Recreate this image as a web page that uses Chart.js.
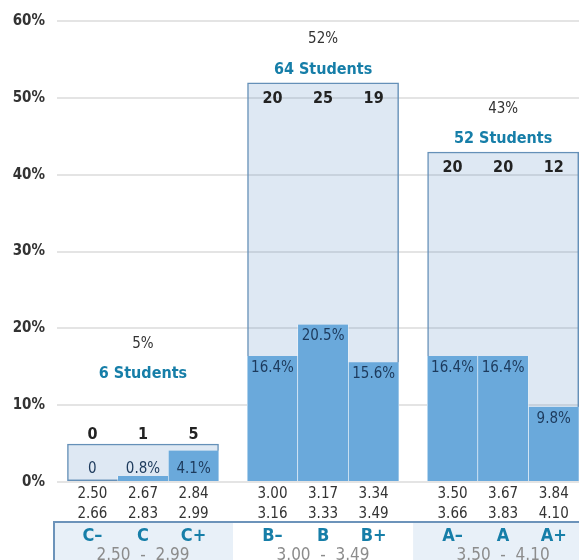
<!DOCTYPE html>
<html><head><meta charset="utf-8">
<script src="https://cdn.jsdelivr.net/npm/chart.js@4.4.0/dist/chart.umd.min.js"></script>
<style>
html,body{margin:0;padding:0;background:#fff;}
#wrap{width:579px;height:560px;position:relative;}
</style></head><body>
<div id="wrap"><canvas id="c"></canvas></div>
<script>
// ---- data ----
const grades = ['C–','C','C+','B–','B','B+','A–','A','A+'];
const gpaLow = ['2.50','2.67','2.84','3.00','3.17','3.34','3.50','3.67','3.84'];
const gpaHigh = ['2.66','2.83','2.99','3.16','3.33','3.49','3.66','3.83','4.10'];
const studentCounts = [0,1,5,20,25,19,20,20,12];
const sharePct = [0,0.8,4.1,16.4,20.5,15.6,16.4,16.4,9.8];
const groupRanges = ['2.50  -  2.99','3.00  -  3.49','3.50  -  4.10'];
const groupPct = [5,52,43];
const yTickStep = 10;
const yMax = 60;

// ---- layout helpers ----
const FF = "'DejaVu Sans Condensed','Liberation Sans Narrow','DejaVu Sans',sans-serif";
const GAP = 0.56;          // gap between grade groups, in bar widths
const GROUP_SPAN = 3 + GAP;
const barPos = grades.map((_, i) => Math.floor(i / 3) * GROUP_SPAN + (i % 3));
const groupPos = groupPct.map((_, g) => g * GROUP_SPAN + 1);
const X_MIN = -0.7;
const X_MAX = barPos[barPos.length - 1] + 0.5;
const HEADER_FLOOR = 12.4;
const TEAL = '#167ea8';

const labelPlugin = {
  id: 'labels',
  afterDatasetsDraw(chart) {
    const ctx = chart.ctx;
    const y = chart.scales.y;
    const boxMeta = chart.getDatasetMeta(0);
    const barMeta = chart.getDatasetMeta(1);
    const zeroY = y.getPixelForValue(0);
    ctx.save();
    ctx.textAlign = 'center';
    ctx.textBaseline = 'middle';
    barMeta.data.forEach((bar, i) => {
      const v = sharePct[i];
      const txt = v === 0 ? '0' : v.toFixed(1) + '%';
      const short = zeroY - bar.y < 40;
      const ty = short ? zeroY - 13 : bar.y + 12;
      ctx.font = '15px ' + FF;
      ctx.fillStyle = '#1d3a5c';
      ctx.fillText(txt, bar.x, ty);
    });
    boxMeta.data.forEach((box, g) => {
      const top = box.y;
      const tall = zeroY - top > 60;
      const countY = tall ? top + 16 : top - 9;
      let total = 0;
      for (let k = 0; k < 3; k++) {
        const i = g * 3 + k;
        total += studentCounts[i];
        ctx.font = 'bold 16px ' + FF;
        ctx.fillStyle = '#222';
        ctx.fillText(String(studentCounts[i]), barMeta.data[i].x, countY);
      }
      const anchor = Math.min(top, y.getPixelForValue(HEADER_FLOOR));
      ctx.font = 'bold 16px ' + FF;
      ctx.fillStyle = TEAL;
      ctx.fillText(total + ' Students', box.x, anchor - 13);
      ctx.font = '15px ' + FF;
      ctx.fillStyle = '#333';
      ctx.fillText(groupPct[g] + '%', box.x, anchor - 43);
    });
    ctx.restore();
  },
  afterDraw(chart) {
    const ctx = chart.ctx;
    const x = chart.scales.x;
    const area = chart.chartArea;
    const bandTop = area.bottom + 40;
    const H = chart.height;
    const edges = [area.left - 3];
    for (let g = 1; g < groupPct.length; g++) {
      edges.push(x.getPixelForValue(g * GROUP_SPAN - 0.5 - GAP / 2));
    }
    edges.push(chart.width);
    ctx.save();
    for (let g = 0; g < groupPct.length; g++) {
      ctx.fillStyle = g % 2 === 0 ? '#e8f0f8' : '#ffffff';
      ctx.fillRect(edges[g], bandTop, edges[g + 1] - edges[g], H - bandTop);
    }
    ctx.strokeStyle = '#6c93ba';
    ctx.lineWidth = 2;
    ctx.beginPath();
    ctx.moveTo(edges[0], H);
    ctx.lineTo(edges[0], bandTop);
    ctx.lineTo(chart.width, bandTop);
    ctx.stroke();
    ctx.textAlign = 'center';
    ctx.textBaseline = 'middle';
    grades.forEach((gr, i) => {
      ctx.font = 'bold 18px ' + FF;
      ctx.fillStyle = TEAL;
      ctx.fillText(gr, x.getPixelForValue(barPos[i]), bandTop + 14);
    });
    groupRanges.forEach((r, g) => {
      ctx.font = '17px ' + FF;
      ctx.fillStyle = '#8c8c8c';
      ctx.fillText(r, x.getPixelForValue(groupPos[g]), bandTop + 33);
    });
    ctx.restore();
  }
};

new Chart(document.getElementById('c'), {
  type: 'bar',
  data: {
    datasets: [
      {
        label: 'Group',
        xAxisID: 'x2',
        data: groupPct.map((v, g) => ({ x: groupPos[g], y: v })),
        backgroundColor: 'rgba(70,130,190,0.18)',
        borderColor: '#6590b8',
        borderWidth: 1.5,
        borderSkipped: false,
        grouped: false,
        categoryPercentage: 3 / GROUP_SPAN,
        barPercentage: 1,
        order: 2
      },
      {
        label: 'Grade',
        xAxisID: 'x',
        data: sharePct.map((v, i) => ({ x: barPos[i], y: v })),
        backgroundColor: '#6aa9db',
        borderColor: '#ffffff',
        borderWidth: { left: 0.6, right: 0.6, top: 0, bottom: 0 },
        borderSkipped: false,
        grouped: false,
        categoryPercentage: 1,
        barPercentage: 1,
        order: 1
      }
    ]
  },
  options: {
    responsive: true,
    maintainAspectRatio: false,
    animation: false,
    layout: { padding: { top: 20, right: 0, bottom: 34, left: 0 } },
    plugins: { legend: { display: false }, tooltip: { enabled: false } },
    scales: {
      x: {
        type: 'linear',
        bounds: 'data',
        offset: false,
        min: X_MIN, max: X_MAX,
        grid: { display: false, drawTicks: false, offset: false },
        border: { display: false },
        afterBuildTicks: (axis) => { axis.ticks = barPos.map(v => ({ value: v })); },
        ticks: {
          autoSkip: false, maxRotation: 0, padding: 2,
          font: { family: FF, size: 15, lineHeight: 1.33 },
          color: '#333',
          callback: (v, i) => [gpaLow[i], gpaHigh[i]]
        }
      },
      x2: {
        type: 'linear',
        bounds: 'data',
        offset: false,
        display: false,
        grid: { offset: false },
        min: X_MIN, max: X_MAX,
        afterBuildTicks: (axis) => { axis.ticks = groupPos.map(v => ({ value: v })); }
      },
      y: {
        min: 0, max: yMax,
        grid: { color: '#e4e4e4', lineWidth: 2, drawTicks: false },
        border: { display: false },
        afterFit: (s) => { s.width = 57; },
        ticks: {
          stepSize: yTickStep, padding: 12,
          font: { family: FF, size: 15, weight: 'bold' },
          color: '#333',
          callback: (v) => v + '%'
        }
      }
    }
  },
  plugins: [labelPlugin]
});
</script>
</body></html>
